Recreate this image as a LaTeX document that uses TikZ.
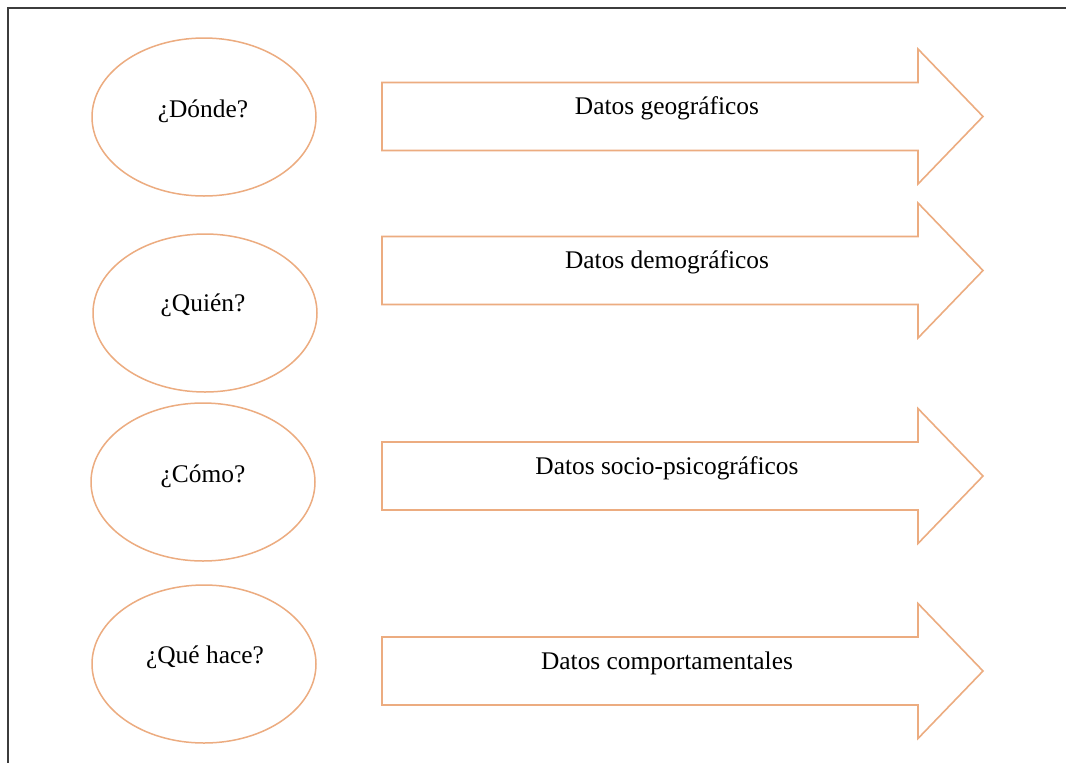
\documentclass[tikz,border=0pt]{standalone}
\usepackage{fontspec}
\setmainfont{Liberation Serif}
\usetikzlibrary{shapes.geometric}
\definecolor{edgeor}{RGB}{236,172,128}
\definecolor{framegray}{RGB}{60,60,60}
\begin{document}
\begin{tikzpicture}[x=0.5pt,y=-0.5pt,
  oval/.style={draw=edgeor, line width=0.75pt, ellipse, minimum width=112pt, minimum height=79pt, inner sep=0pt},
  bigarrow/.style={draw=edgeor, line width=0.8pt, line join=miter},
  lbl/.style={font=\fontsize{12.7pt}{15pt}\selectfont, text=black, inner sep=0pt}]
\useasboundingbox (0,0) rectangle (1066,762);
\fill[white] (0,0) rectangle (1066,762);
\draw[framegray, line width=1pt] (8,770) -- (8,8) -- (1070,8);

% ellipses
\node[oval] (e1) at (204,117) {};
\node[oval] (e2) at (205,313) {};
\node[oval] (e3) at (203,482) {};
\node[oval] (e4) at (204,664) {};
\node[lbl] (q1) at (203,111) {¿Dónde?};
\node[lbl] (q2) at (203,305) {¿Quién?};
\node[lbl] (q3) at (203,476) {¿Cómo?};
\node[lbl] (q4) at (205,657) {¿Qué hace?};

% arrows
\foreach \yc/\name/\txt in {116.5/a1/Datos geográficos, 270.5/a2/Datos demográficos, 476/a3/Datos socio-psicográficos, 671/a4/Datos comportamentales}{
  \draw[bigarrow] (382,\yc-34) -- (918,\yc-34) -- (918,\yc-67.5) -- (983,\yc)
     -- (918,\yc+67.5) -- (918,\yc+34) -- (382,\yc+34) -- cycle;
  \node[lbl] (\name) at (667,\yc-8) {\txt};
}
\end{tikzpicture}
\end{document}
